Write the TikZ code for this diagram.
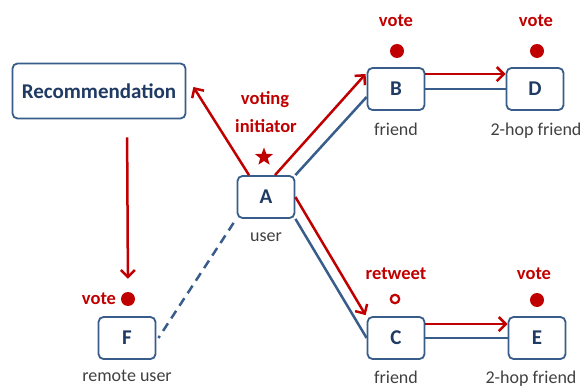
\documentclass[tikz,border=0pt]{standalone}
\usepackage{fontspec}
\setmainfont{Carlito}
\usetikzlibrary{arrows.meta,positioning,shapes.geometric}
\definecolor{vred}{HTML}{C00000}
\definecolor{vblue}{HTML}{385D8A}
\definecolor{vdark}{HTML}{1F3B63}
\definecolor{vtext}{HTML}{404040}
\begin{document}
\begin{tikzpicture}[x=1pt,y=-1pt,
    box/.style={draw=vblue,line width=1.8pt,rounded corners=5pt,fill=white,
      minimum width=57pt,minimum height=42pt,text=vdark,
      font=\fontsize{21}{23}\selectfont\bfseries},
    role/.style={anchor=base,inner sep=0pt,text=vtext,font=\fontsize{18}{20}\selectfont},
    act/.style={anchor=base,inner sep=0pt,text=vred,font=\fontsize{18.5}{20}\selectfont\bfseries},
    vdot/.style={circle,fill=vred,inner sep=0pt,minimum size=14pt},
    ring/.style={circle,draw=vred,line width=2.2pt,inner sep=0pt,minimum size=8.5pt},
    redarrow/.style={draw=vred,line width=2.5pt,-{Straight Barb[length=7pt,width=14pt]}},
    blueline/.style={draw=vblue,line width=2.5pt}
  ]
  \useasboundingbox (0,0) rectangle (583,387);
  % boxes
  \node[box,minimum width=173pt,minimum height=55pt,
    font=\fontsize{21}{24}\selectfont\bfseries] (rec) at (99,91) {Recommendation};
  \node[box] (A) at (266,197) {A};
  \node[box] (B) at (396,89) {B};
  \node[box] (D) at (535,89) {D};
  \node[box] (C) at (396,338) {C};
  \node[box] (E) at (537,338) {E};
  \node[box] (F) at (127,338) {F};
  % roles
  \node[role] (userA) at (266,242) {user};
  \node[role] (roleB) at (396,136) {friend};
  \node[role] (roleD) at (536,136) {2-hop friend};
  \node[role] (roleC) at (396,383) {friend};
  \node[role] (roleE) at (531,383) {2-hop friend};
  \node[role] (roleF) at (127,381) {remote user};
  % actions
  \node[act] (voting) at (265,105) {voting};
  \node[act] (init) at (266,133) {initiator};
  \node[star,star points=5,star point ratio=2.4,fill=vred,inner sep=0pt,
    minimum size=19pt] (starA) at (264,157) {};
  \node[act] (voteB) at (396,27) {vote};
  \node[vdot] (dotB) at (397,51) {};
  \node[act] (voteD) at (536,27) {vote};
  \node[vdot] (dotD) at (537,51) {};
  \node[act] (twC) at (396,279) {retweet};
  \node[ring] (ringC) at (395,299) {};
  \node[act] (voteE) at (534,279) {vote};
  \node[vdot] (dotE) at (537,300) {};
  \node[act] (voteF) at (99,304) {vote};
  \node[vdot] (dotF) at (128,299) {};
  % connectors
  \draw[redarrow] ([xshift=-17pt]A.north) -- ([xshift=7pt,yshift=4pt]rec.east);
  \draw[redarrow,shorten <=18pt,shorten >=13pt] ([xshift=28pt]rec.south) -- (dotF.north);
  \draw[redarrow] ([xshift=9pt]A.north) -- ([xshift=-1pt,yshift=15pt]B.west);
  \draw[blueline] (A.north east) -- ([yshift=-8pt]B.west);
  \draw[redarrow] (A.east) -- ([xshift=-1pt,yshift=1pt]C.north west);
  \draw[blueline] (A.south east) -- (C.west);
  \draw[redarrow] ([yshift=-7pt]B.north east) -- ([yshift=-7pt]D.north west);
  \draw[blueline] (B.east) -- (D.west);
  \draw[redarrow] ([yshift=-8pt]C.north east) -- ([yshift=-8pt]E.north west);
  \draw[blueline] (C.east) -- (E.west);
  \draw[blueline,dash pattern=on 9pt off 6pt] ([xshift=-3pt,yshift=-4pt]A.south west) -- ([xshift=2pt]F.east);
\end{tikzpicture}
\end{document}
